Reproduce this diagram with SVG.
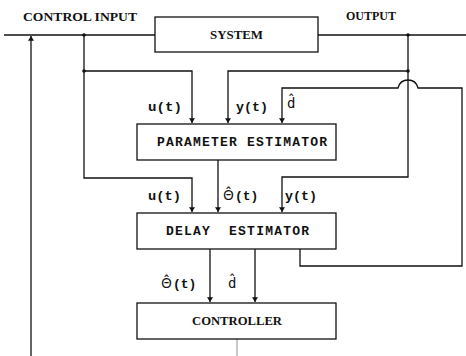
<svg xmlns="http://www.w3.org/2000/svg" width="466" height="356" viewBox="0 0 466 356">
<defs>
<marker id="arr" viewBox="0 0 8 10" refX="8" refY="5" markerWidth="5" markerHeight="6" orient="auto" markerUnits="userSpaceOnUse">
<path d="M0,0 L8,5 L0,10 Z" fill="#111"/>
</marker>
</defs>
<style>
.box{fill:#fff;stroke:#111;stroke-width:1.3}
.ln{fill:none;stroke:#111;stroke-width:1.3}
.ser{font-family:"Liberation Serif","Times New Roman",serif;font-size:12.5px;fill:#111;font-weight:bold}
.mono{font-family:"Liberation Mono","Courier New",monospace;font-size:13px;fill:#111;white-space:pre;font-weight:bold}
.sym{font-family:"DejaVu Sans Mono","Liberation Mono",monospace;font-size:14px;fill:#111}
.th{font-family:"Noto Sans",sans-serif;font-size:14px;fill:#111}
.pt{font-family:"Liberation Mono","Courier New",monospace;font-size:13px;font-weight:bold}
.dot{fill:#111}
</style>
<rect width="466" height="356" fill="#fff"/>
<g id="connectors">
<path class="ln" d="M4,35 H155"/>
<path class="ln" d="M318,35 H466"/>
<path class="ln" d="M31,356 V36" marker-end="url(#arr)"/>
<path class="ln" d="M84,35 V178 H192 V212" marker-end="url(#arr)"/>
<path class="ln" d="M84,71 H192 V123" marker-end="url(#arr)"/>
<path class="ln" d="M408,35 V177 H282 V212" marker-end="url(#arr)"/>
<path class="ln" d="M408,71 H228 V123" marker-end="url(#arr)"/>
<path class="ln" d="M218,160 V212" marker-end="url(#arr)"/>
<path class="ln" d="M300,249 V266 H462 V88 H418 Q416,80 408,80 Q400,80 398,88 H282 V123" marker-end="url(#arr)"/>
<path class="ln" d="M210,249 V302" marker-end="url(#arr)"/>
<path class="ln" d="M255,249 V302" marker-end="url(#arr)"/>
<path d="M237,339 V356" fill="none" stroke="#777" stroke-width="0.8"/>
<circle class="dot" cx="84" cy="35" r="1.8"/>
<circle class="dot" cx="84" cy="71" r="1.8"/>
<circle class="dot" cx="408" cy="35" r="1.8"/>
<circle class="dot" cx="408" cy="71" r="1.8"/>
</g>
<g id="labels">
<text class="ser" x="23" y="21" textLength="114" lengthAdjust="spacingAndGlyphs">CONTROL INPUT</text>
<text class="ser" x="346" y="20" textLength="50" lengthAdjust="spacingAndGlyphs">OUTPUT</text>
<text class="mono" x="148" y="111" textLength="34" lengthAdjust="spacingAndGlyphs">u(t)</text>
<text class="mono" x="236" y="111" textLength="32" lengthAdjust="spacingAndGlyphs">y(t)</text>
<text class="sym" x="287" y="108">d̂</text>
<text class="mono" x="148" y="200" textLength="33" lengthAdjust="spacingAndGlyphs">u(t)</text>
<text class="th" x="223" y="200">Θ̂<tspan class="pt" dx="1">(t)</tspan></text>
<text class="mono" x="285" y="200" textLength="32" lengthAdjust="spacingAndGlyphs">y(t)</text>
<text class="th" x="161" y="288">Θ̂<tspan class="pt" dx="1">(t)</tspan></text>
<text class="sym" x="228" y="288">d̂</text>
</g>
<g id="system">
<rect class="box" x="155" y="17" width="163" height="35"/>
<text class="ser" x="210" y="39" textLength="53" lengthAdjust="spacingAndGlyphs">SYSTEM</text>
</g>
<g id="parameter-estimator">
<rect class="box" x="137" y="124" width="199" height="36"/>
<text class="mono" x="157" y="146" textLength="170" lengthAdjust="spacing">PARAMETER ESTIMATOR</text>
</g>
<g id="delay-estimator">
<rect class="box" x="137" y="213" width="199" height="36"/>
<text class="mono" x="166" y="235" textLength="143" lengthAdjust="spacing">DELAY  ESTIMATOR</text>
</g>
<g id="controller">
<rect class="box" x="137" y="303" width="199" height="36"/>
<text class="ser" x="192" y="325" textLength="90" lengthAdjust="spacingAndGlyphs">CONTROLLER</text>
</g>
</svg>
